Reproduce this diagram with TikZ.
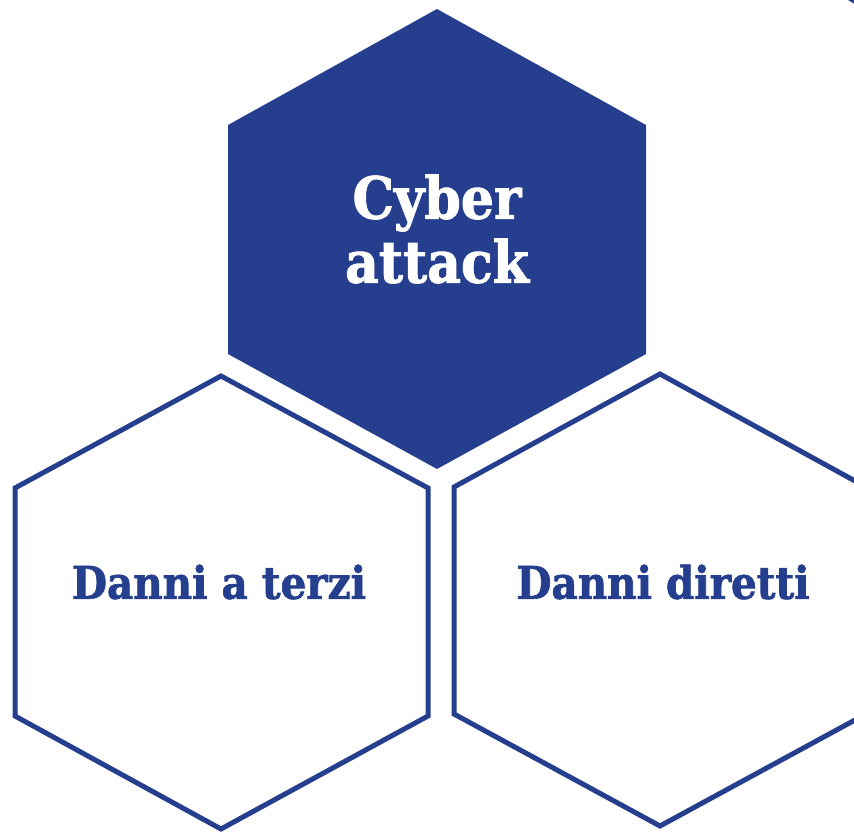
\documentclass[tikz,border=0pt]{standalone}
\usepackage{fontspec}
\setmainfont{DejaVu Serif Condensed}[BoldFeatures={FakeBold=1.5}]
\definecolor{hexblue}{RGB}{37,63,142}
\begin{document}
\begin{tikzpicture}[x=1pt,y=-1pt,
  hexfill/.style={fill=hexblue,draw=none},
  hexline/.style={draw=hexblue,line width=5pt,line join=miter,fill=white},
  toptext/.style={text=white,font=\bfseries\fontsize{58}{64}\selectfont,align=center},
  lowtext/.style={text=hexblue,font=\bfseries\fontsize{45}{50}\selectfont,align=center}]
\useasboundingbox (0,0) rectangle (854,832);
\fill[white] (0,0) rectangle (854,832);
% top hexagon
\fill[hexfill] (437,9) -- (646,125) -- (646,354) -- (437,469) -- (228,354) -- (228,125) -- cycle;
% left hexagon
\draw[hexline] (221,376) -- (428,488) -- (428,716) -- (221,829) -- (15,716) -- (15,488) -- cycle;
% right hexagon
\draw[hexline] (660,374) -- (866,487) -- (866,714) -- (660,826) -- (454,714) -- (454,487) -- cycle;
% fragment at top right
\draw[hexline] (846,-4) -- (858,3);
\node[toptext] (cyber) at (437,229) {Cyber\\attack};
\node[lowtext] (terzi) at (219,582) {Danni a terzi};
\node[lowtext] (diretti) at (663,582) {Danni diretti};
\end{tikzpicture}
\end{document}
